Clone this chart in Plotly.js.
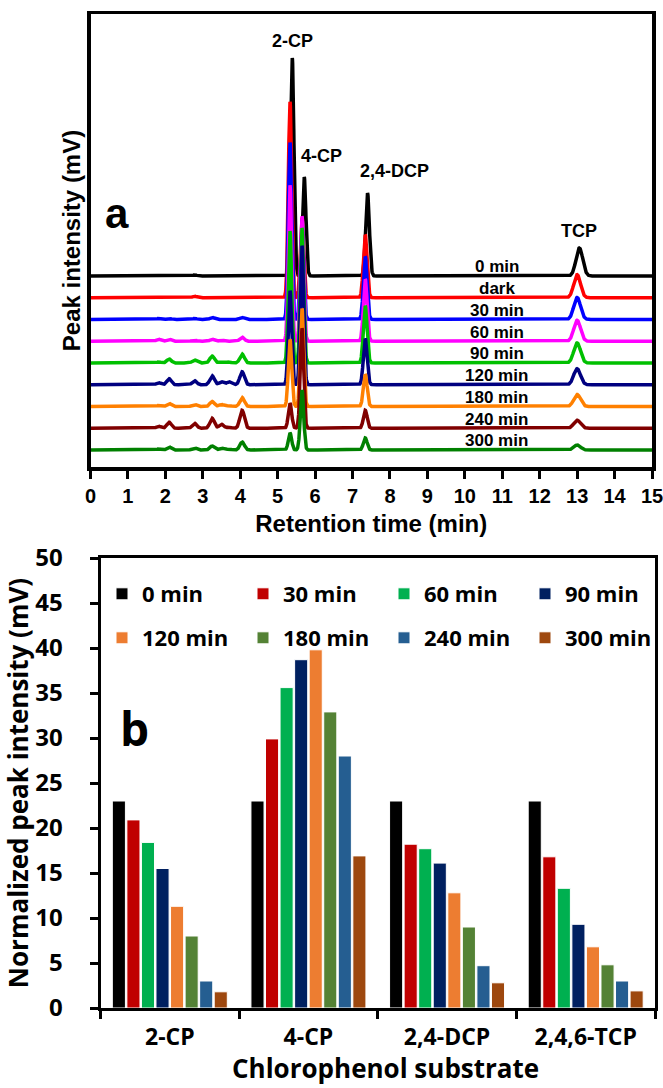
<!DOCTYPE html>
<html>
<head>
<meta charset="utf-8">
<script src="https://cdn.plot.ly/plotly-3.0.1.min.js"></script>
<style>
  html, body { margin: 0; padding: 0; background: #ffffff; }
  #chart { width: 663px; height: 1088px; }
</style>
</head>
<body>
<div id="chart"></div>
<script>
// ---------- Panel a: HPLC chromatograms during the photocatalytic run ----------
const sampleLabels = ['0 min', 'dark', '30 min', '60 min', '90 min', '120 min', '180 min', '240 min', '300 min'];

// Main analyte peaks: retention time (min) and peak width (sigma, min)
const mainPeakNames = ['2-CP', '4-CP', '2,4-DCP', 'TCP'];
const mainPeakTimes = [5.33, 5.65, 7.34, 13.0];
const mainPeakSigma = [0.045, 0.045, 0.05, 0.09];

// Peak heights per sample, order: 2-CP, 4-CP, 2,4-DCP, TCP
const heights0min  = [218, 99, 83, 28];
const heightsDark  = [196, 80, 63, 23];
const heights30    = [177, 100, 63, 22];
const heights60    = [156, 125, 62, 21];
const heights90    = [132, 135, 57, 20];
const heights120   = [94, 139, 46, 16];
const heights180   = [67, 98, 32, 12];
const heights240   = [25, 100, 18, 8];
const heights300   = [17, 60, 12, 5];

// Small intermediate peaks between 1.5 and 4.5 min
const minorPeakTimes = [1.82, 2.1, 2.78, 3.25, 3.5, 3.7, 4.05];
const minor0min = [0, 0, 1, 0, 0, 0, 0];
const minorDark = [0, 0, 1.5, 0, 0, 0, 0];
const minor30   = [1, 1, 1, 2, 0, 0, 2];
const minor60   = [2, 2, 1, 2, 1, 0, 4];
const minor90   = [1, 4, 3, 7, 1, 1, 9];
const minor120  = [2, 6, 4, 9, 3, 3, 13];
const minor180  = [1, 3, 2, 5, 2, 1, 9];
const minor240  = [2, 6, 5, 10, 4, 1, 18];
const minor300  = [1, 3, 2, 4, 2, 1, 8];

// Slight retention drift of the first injection
const retentionDrift = [0.06, 0, 0, 0, 0, 0, 0, 0, 0];

const mainHeights = [heights0min, heightsDark, heights30, heights60, heights90, heights120, heights180, heights240, heights300];
const minorHeights = [minor0min, minorDark, minor30, minor60, minor90, minor120, minor180, minor240, minor300];

// ---------- Panel b: normalized peak intensity per substrate ----------
const substrates = ['2-CP', '4-CP', '2,4-DCP', '2,4,6-TCP'];
const timeLabels = ['0 min', '30 min', '60 min', '90 min', '120 min', '180 min', '240 min', '300 min'];
const bar0   = [23.0, 23.0, 23.0, 23.0];
const bar30  = [20.9, 29.9, 18.2, 16.8];
const bar60  = [18.4, 35.6, 17.7, 13.3];
const bar90  = [15.5, 38.7, 16.1, 9.3];
const bar120 = [11.3, 39.8, 12.8, 6.8];
const bar180 = [8.0, 32.9, 9.0, 4.8];
const bar240 = [3.0, 28.0, 4.7, 3.0];
const bar300 = [1.8, 16.9, 2.8, 1.9];
const barSeries = [bar0, bar30, bar60, bar90, bar120, bar180, bar240, bar300];

// ---------- styles ----------
const lineColors = ['#000000', '#ff0000', '#0000ff', '#ff00ff', '#00c000', '#000080', '#ff8000', '#800000', '#008000'];
const barColors = ['#000000', '#c00000', '#00b050', '#002060', '#ed7d31', '#548235', '#255e91', '#9e480e'];
const W = 663, H = 1088;
const fontA = 'Liberation Sans, Arial, sans-serif';
const fontB = 'Open Sans, Lato, sans-serif';

// vertical stacking of the chromatograms (plot units = px of the panel)
const stackBase = 17, stackStep = 21.75;
const offsets = sampleLabels.map((_, i) => stackBase + (sampleLabels.length - 1 - i) * stackStep);

// Gaussian peak profile for drawing each chromatogram from its peak table
function peakProfile(t, rt, h, s) {
  const z = (t - rt) / s;
  return h * Math.exp(-0.5 * z * z);
}
const timeAxis = [];
for (let k = 0; k <= 3000; k++) timeAxis.push(+(k * 0.005).toFixed(3));

const traces = [];
sampleLabels.forEach((name, i) => {
  const y = timeAxis.map(t => {
    let v = offsets[i];
    mainPeakTimes.forEach((rt, p) => { v += peakProfile(t, rt + retentionDrift[i], mainHeights[i][p], mainPeakSigma[p]); });
    minorPeakTimes.forEach((rt, p) => { if (minorHeights[i][p]) v += peakProfile(t, rt, minorHeights[i][p], 0.06); });
    return v;
  });
  traces.push({
    type: 'scatter', mode: 'lines', x: timeAxis, y: y, name: name,
    xaxis: 'x', yaxis: 'y', showlegend: false, hoverinfo: 'skip',
    line: { color: lineColors[i], width: 3.5 }
  });
});

barSeries.forEach((vals, j) => {
  traces.push({
    type: 'bar', x: substrates, y: vals, name: timeLabels[j],
    xaxis: 'x2', yaxis: 'y2',
    legend: j < 4 ? 'legend' : 'legend2',
    marker: { color: barColors[j], line: { color: '#ffffff', width: 1 } }
  });
});

// ---------- annotations ----------
const annotations = [];
// sample labels sit just above each baseline
sampleLabels.forEach((name, i) => {
  annotations.push({
    xref: 'x', yref: 'y', x: 10.85, y: offsets[i], yshift: 9, yanchor: 'middle',
    text: name, showarrow: false,
    font: { family: fontA, size: 17, weight: 'bold', color: '#000' }
  });
});
// compound labels above the first chromatogram
const labelShiftX = [0, 17, 27, 0];
const labelShiftY = [5, 9, 10, 5];
mainPeakNames.forEach((name, p) => {
  annotations.push({
    xref: 'x', yref: 'y', x: mainPeakTimes[p] + retentionDrift[0], y: offsets[0] + heights0min[p],
    xshift: labelShiftX[p], yshift: labelShiftY[p], yanchor: 'bottom', xanchor: 'center',
    text: name, showarrow: false,
    font: { family: fontA, size: 18, weight: 'bold', color: '#000' }
  });
});
annotations.push({
  xref: 'paper', yref: 'paper', x: 117 / W, y: 1 - 214 / H, xanchor: 'center', yanchor: 'middle',
  text: 'a', showarrow: false, font: { family: fontA, size: 42, weight: 'bold', color: '#000' }
});
annotations.push({
  xref: 'paper', yref: 'paper', x: 134 / W, y: 1 - 728 / H, xanchor: 'center', yanchor: 'middle',
  text: 'b', showarrow: false, font: { family: fontB, size: 46, weight: 'bold', color: '#000' }
});
// x-axis title of panel b, resting on the bottom edge of the figure
annotations.push({
  xref: 'paper', yref: 'paper', x: 385 / W, y: 0, xanchor: 'center', yanchor: 'bottom',
  text: 'Chlorophenol substrate', showarrow: false,
  font: { family: fontB, size: 26, weight: 'bold', color: '#000' }
});

const legendFont = { family: fontB, size: 22, weight: 'bold', color: '#000' };
const layout = {
  width: W, height: H,
  margin: { l: 0, r: 0, t: 0, b: 0, autoexpand: false },
  paper_bgcolor: '#ffffff', plot_bgcolor: '#ffffff',
  barmode: 'group', bargap: 0.16, bargroupgap: 0.1,
  showlegend: true,
  xaxis: {
    domain: [90.5 / W, 652 / W], anchor: 'y', range: [0, 15], tick0: 0, dtick: 1,
    ticks: 'outside', ticklen: 8, tickwidth: 3, tickcolor: '#000', ticklabeloverflow: 'allow',
    showline: true, linewidth: 3.5, linecolor: '#000', mirror: true,
    showgrid: false, zeroline: false,
    tickfont: { family: fontA, size: 20, weight: 'bold', color: '#000' },
    title: { text: 'Retention time (min)', standoff: 10, font: { family: fontA, size: 24, weight: 'bold', color: '#000' } }
  },
  yaxis: {
    domain: [1 - 467 / H, 1 - 14 / H], anchor: 'x', range: [0, 453],
    showticklabels: false, ticks: '',
    showline: true, linewidth: 3.5, linecolor: '#000', mirror: true,
    showgrid: false, zeroline: false,
    title: { text: 'Peak intensity (mV)', standoff: 0, font: { family: fontA, size: 24, weight: 'bold', color: '#000' } }
  },
  xaxis2: {
    domain: [100.5 / W, 655 / W], anchor: 'y2', type: 'category',
    tickson: 'boundaries', ticks: 'outside', ticklen: 8, tickwidth: 3, tickcolor: '#000',
    ticklabelstandoff: 6, ticklabeloverflow: 'allow',
    showline: true, linewidth: 3, linecolor: '#000', mirror: true,
    showgrid: false, zeroline: false,
    tickfont: { family: fontB, size: 23, weight: 'bold', color: '#000' }
  },
  yaxis2: {
    domain: [1 - 1008 / H, 1 - 558 / H], anchor: 'x2', range: [0, 50], tick0: 0, dtick: 5,
    ticks: 'outside', ticklen: 8, tickwidth: 3, tickcolor: '#000', ticklabelstandoff: 22,
    showline: true, linewidth: 3, linecolor: '#000', mirror: true,
    showgrid: false, zeroline: false,
    tickfont: { family: fontB, size: 24, weight: 'bold', color: '#000' },
    title: { text: 'Normalized peak intensity (mV)', standoff: 6, font: { family: fontB, size: 26, weight: 'bold', color: '#000' } }
  },
  legend: {
    orientation: 'h', x: 102 / W, y: 1 - 594 / H, xanchor: 'left', yanchor: 'middle',
    entrywidth: 96, entrywidthmode: 'pixels', bgcolor: 'rgba(0,0,0,0)', borderwidth: 0,
    font: legendFont, traceorder: 'normal'
  },
  legend2: {
    orientation: 'h', x: 102 / W, y: 1 - 638 / H, xanchor: 'left', yanchor: 'middle',
    entrywidth: 96, entrywidthmode: 'pixels', bgcolor: 'rgba(0,0,0,0)', borderwidth: 0,
    font: legendFont, traceorder: 'normal'
  },
  annotations: annotations
};

Plotly.newPlot('chart', traces, layout, { staticPlot: true, displayModeBar: false });
</script>
</body>
</html>
